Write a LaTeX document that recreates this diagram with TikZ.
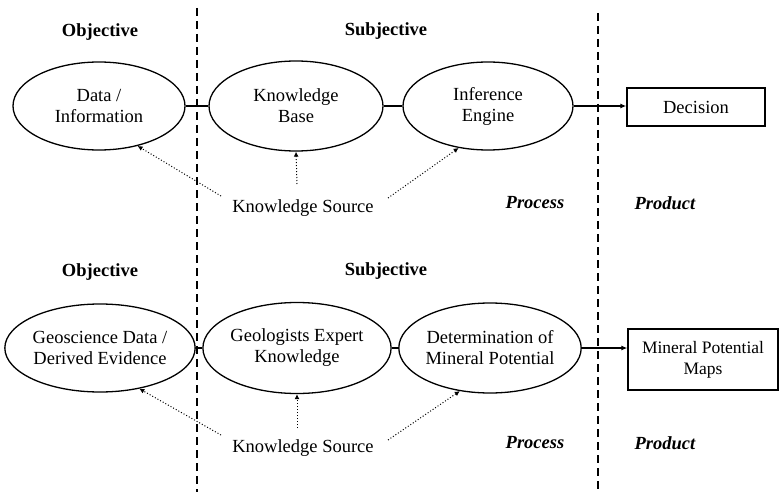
\documentclass[tikz,border=0pt]{standalone}
\usepackage{fontspec}
\setmainfont{Liberation Serif}
\usetikzlibrary{shapes.geometric,arrows.meta}
\begin{document}
\begin{tikzpicture}[x=1pt,y=-1pt,
  every node/.style={font=\fontsize{18.5}{21}\selectfont},
  oval/.style={ellipse,draw,line width=1.3pt,minimum width=172pt,minimum height=88pt,inner sep=0pt,align=center},
  prodbox/.style={rectangle,draw,line width=1.3pt,align=center,inner sep=0pt},
  divider/.style={line width=1.1pt,dash pattern=on 8pt off 5pt},
  link/.style={line width=1.3pt},
  srcline/.style={line width=1pt,dotted,-{Latex[length=5pt,width=5pt]}},
  head/.style={font=\fontsize{18.5}{21}\selectfont\bfseries},
  ital/.style={font=\fontsize{18.5}{21}\selectfont\bfseries\itshape}
]
\useasboundingbox (0,0) rectangle (779,492);
\clip (0,0) rectangle (779,492);
% dividers
\coordinate (v1t) at (197,8);
\coordinate (v1b) at (197,492);
\coordinate (v2t) at (598,13);
\coordinate (v2b) at (598,492);
\draw[divider] (v1t) -- (v1b);
\draw[divider] (v2t) -- (v2b);

% ---------- top row ----------
\node[head] (obj1) at (100,32) {Objective};
\node[head] (sub1) at (386,31) {Subjective};
\node[oval] (d1) at (99,106) {Data /\\Information};
\node[oval,minimum width=174pt,minimum height=90pt] (kb1) at (296,106) {Knowledge\\Base};
\node[oval,minimum width=170pt] (ie1) at (488,106) {Inference\\Engine};
\node[prodbox,minimum width=138pt,minimum height=38pt] (dec1) at (696,107) {Decision};
\draw[link] (d1.east) -- (kb1.west);
\draw[link] (kb1.east) -- (ie1.west);
\draw[link,-{Latex[length=6pt,width=5pt]}] (ie1.east) -- (ie1.east -| dec1.west);
\node (ks1) at (303,208) {Knowledge Source};
\node[ital] (pr1) at (535,203) {Process};
\node[ital] (pd1) at (665,203) {Product};
\coordinate (ks1a) at (221,196);
\coordinate (ks1b) at (297,184);
\coordinate (ks1c) at (388,198);
\draw[srcline] (ks1a) -- (d1.-46);
\draw[srcline] (ks1b) -- (kb1.south);
\draw[srcline] (ks1c) -- (ie1.-125);

% ---------- bottom row ----------
\node[head] (obj2) at (100,272) {Objective};
\node[head] (sub2) at (386,271) {Subjective};
\node[oval,minimum width=174pt] (d2) at (100,348) {Geoscience Data /\\Derived Evidence};
\node[oval,minimum width=175pt,minimum height=91pt] (kb2) at (297,348) {Geologists Expert\\Knowledge};
\node[oval,minimum width=170pt,minimum height=90pt] (ie2) at (490,348) {Determination of\\Mineral Potential};
\node[prodbox,minimum width=150pt,minimum height=61pt] (dec2) at (703,359.5) {};
\node[align=center,font=\fontsize{17.5}{21}\selectfont] (dec2t) at (703,359.5) {Mineral Potential\\Maps};
\draw[link] (d2.east) -- (kb2.west);
\draw[link] (kb2.east) -- (ie2.west);
\draw[link,-{Latex[length=6pt,width=5pt]}] (ie2.east) -- (ie2.east -| dec2.west);
\node (ks2) at (303,448) {Knowledge Source};
\node[ital] (pr2) at (535,443) {Process};
\node[ital] (pd2) at (665,443) {Product};
\coordinate (ks2a) at (221,435);
\coordinate (ks2b) at (297,428);
\coordinate (ks2c) at (388,440);
\draw[srcline] (ks2a) -- (d2.-46);
\draw[srcline] (ks2b) -- (kb2.south);
\draw[srcline] (ks2c) -- (ie2.-125);
\end{tikzpicture}
\end{document}
